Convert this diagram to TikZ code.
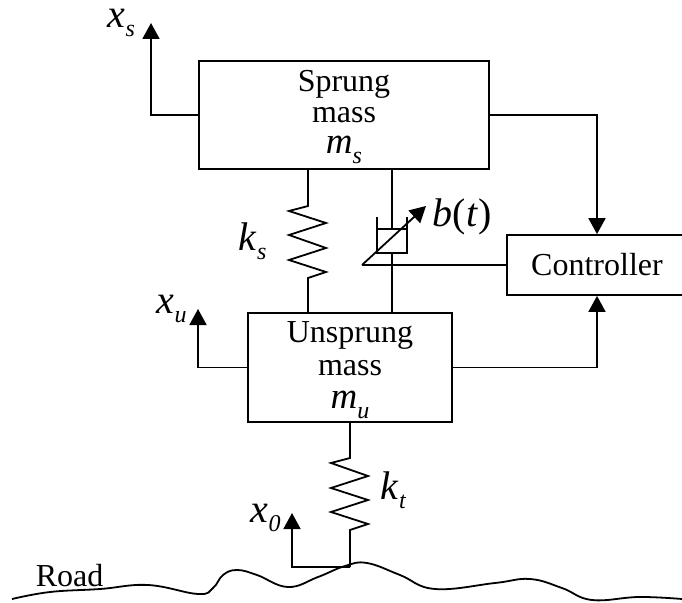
\documentclass[tikz,border=0pt]{standalone}
\usepackage{fontspec}
\setmainfont{Liberation Serif}
\usetikzlibrary{arrows.meta}
\newcommand{\symsub}[2]{\fontsize{40}{40}\selectfont\textit{#1}\raisebox{-9pt}{\fontsize{24}{24}\selectfont\textit{#2}}}
\newcommand{\masssub}[2]{\fontsize{37}{37}\selectfont\textit{#1}\raisebox{-10pt}{\fontsize{24}{24}\selectfont\textit{#2}}}
\tikzset{
  box/.style={draw,inner sep=0pt},
  boxtext/.style={align=center,inner sep=0pt,font=\fontsize{32}{33}\selectfont},
  sig/.style={-{Triangle[length=16pt,width=17pt]}},
  lab/.style={anchor=base west,inner sep=0pt}
}

\begin{document}
\begin{tikzpicture}[x=1pt,y=-1pt,line width=1.8pt]
  \useasboundingbox (0,0) rectangle (682,602);
  \node [box,minimum width=290pt,minimum height=108pt] (sprung) at (344,115) {};
  \node [box,minimum width=204pt,minimum height=109pt] (unsprung) at (350,367.5) {};
  \node [box,minimum width=180pt,minimum height=60pt] (controller) at (597,265) {};
  \node [boxtext] (sprungtext) at (344,117) {Sprung\\[-2pt]mass\\[-2pt]\masssub{m}{s}};
  \node [boxtext] (unsprungtext) at (350,370) {Unsprung\\mass\\\masssub{m}{u}};
  \node [boxtext] (controllertext) at (597,265) {Controller};
  \coordinate (xstip) at (151,23);
  \coordinate (xutip) at (198,309);
  \coordinate (xotip) at (292,513);
  \coordinate (xofoot) at (292,567);
  \coordinate (ktfoot) at (350,567);
  \coordinate (kstop) at (308,169);
  \coordinate (ksbot) at (308,313);
  \coordinate (kttop) at (350,422);
  \coordinate (dampertop) at (392,169);
  \coordinate (damperbot) at (392,313);
  \coordinate (vartail) at (362,265);
  \coordinate (vartip) at (426,206);
  % outputs
  \draw [sig] (sprung.west) -| (xstip);
  \draw [sig] (unsprung.west) -| (xutip);
  \draw [sig] (sprung.east) -| (controller.north);
  \draw [sig] (unsprung.east) -| (controller.south);
  \draw [sig] (ktfoot) -- (xofoot) -- (xotip);
  % springs
  \draw (kstop) -- (308,206) -- (289,211) -- (326,223) -- (289,235) -- (326,248) -- (289,260) -- (326,272) -- (308,278) -- (ksbot);
  \draw (kttop) -- (350,458) -- (331,463) -- (368,476) -- (331,488) -- (368,500) -- (331,512) -- (368,524) -- (350,530) -- (ktfoot);
  % damper
  \draw (dampertop) -- (392,229);
  \draw (377,229) -- (407,229);
  \draw (377,217) -- (377,253) -- (407,253) -- (407,217);
  \draw (392,253) -- (damperbot);
  \draw [sig] (vartail) -- (vartip);
  \draw (controller.west) -- (vartail);
  % road
  \draw plot [smooth,tension=0.7] coordinates {(12,599) (50,592) (100,589) (148,585) (198,594) (213,588) (223,575) (237,570) (257,575) (288,587) (318,577) (345,566) (367,563) (400,575) (435,589) (495,583) (530,579) (562,588) (592,600) (639,597) (682,599)};
  % labels
  \node [lab] (xslabel) at (107,28) {\symsub{x}{s}};
  \node [lab] (xulabel) at (156,313) {\symsub{x}{u}};
  \node [lab] (kslabel) at (238,250) {\symsub{k}{s}};
  \node [lab] (ktlabel) at (380,499) {\symsub{k}{t}};
  \node [lab] (xolabel) at (250,522) {\symsub{x}{0}};
  \node [lab,font=\fontsize{40}{40}\selectfont] (blabel) at (432,226) {\textit{b}(\textit{t})};
  \node [lab,font=\fontsize{32}{32}\selectfont] (roadlabel) at (35,586) {Road};
\end{tikzpicture}
\end{document}
